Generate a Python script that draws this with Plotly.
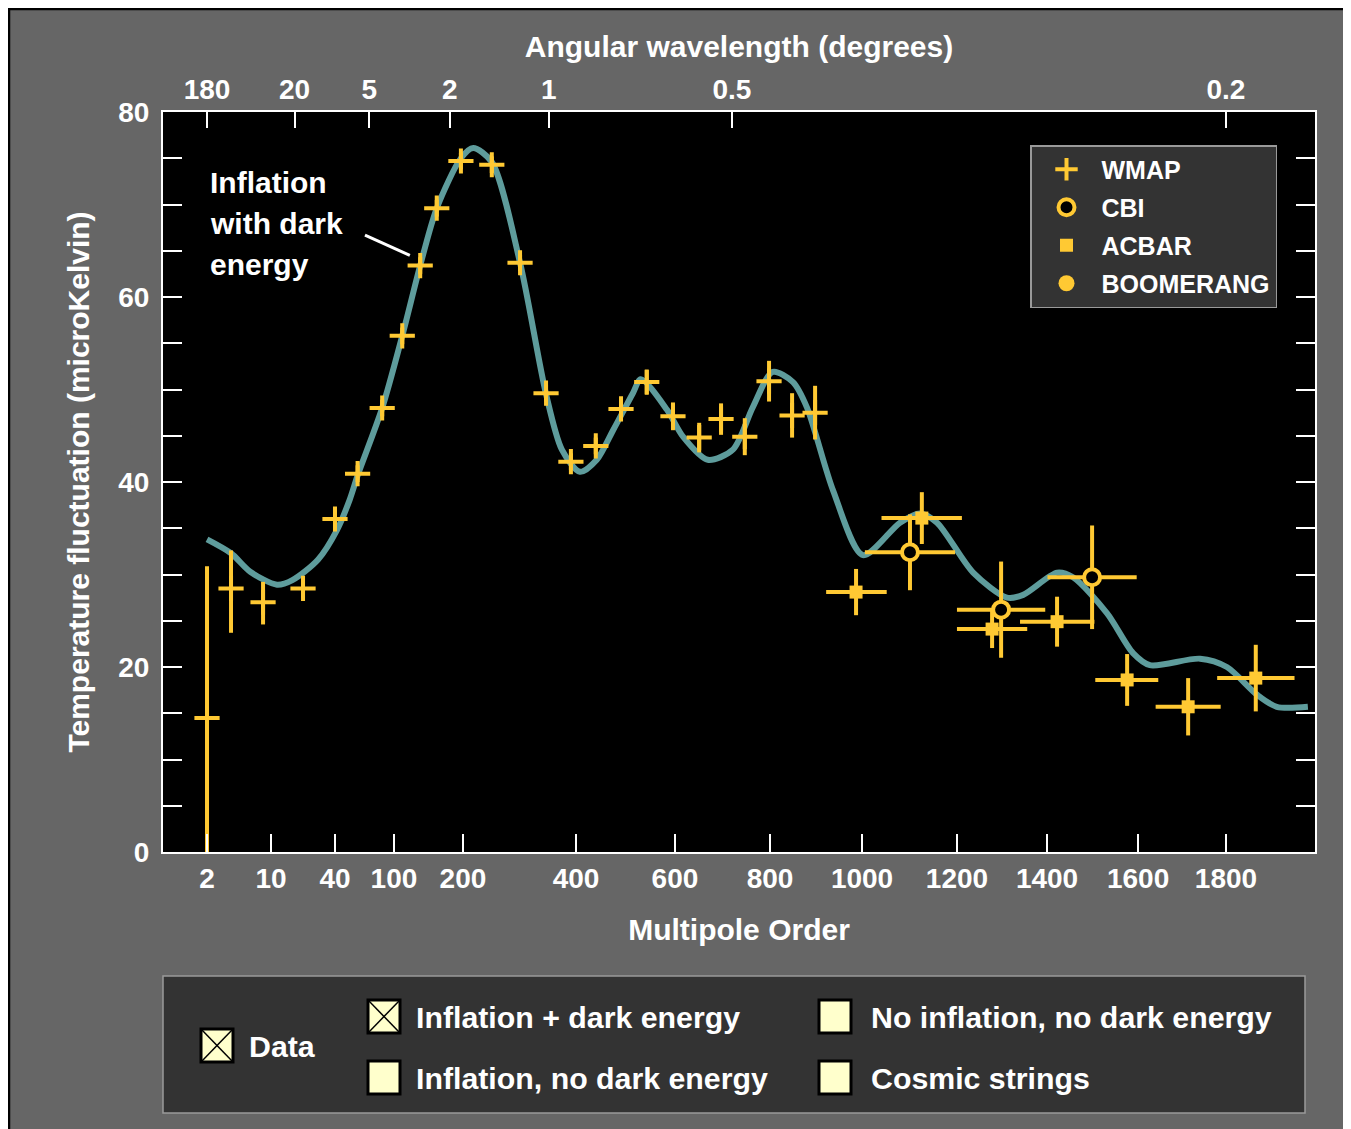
import numpy as np
import plotly.graph_objects as go

# ---------------- data ----------------
curve_l = [2, 5, 7.4, 12.8, 20, 32, 42, 55, 63, 88, 112, 138, 162, 197, 218, 251, 301, 347,
           375, 408, 442, 475, 515, 531, 584, 617, 669, 722, 764, 806, 850, 880, 937,
           1002, 1080, 1122, 1158, 1236, 1311, 1347, 1422, 1457, 1532, 1589, 1627, 1741,
           1802, 1870, 1914, 1984]
curve_t = [33.8, 32.3, 30.3, 28.9, 29.4, 31.6, 34.8, 38.1, 40.7, 48.0, 55.8, 63.4, 69.6, 75.0,
           76.1, 74.6, 63.7, 49.5, 43.5, 41.1, 42.4, 45.6, 49.6, 51.1, 47.8, 44.9, 42.4, 43.5,
           48.1, 51.9, 50.8, 48.1, 39.1, 32.1, 35.6, 36.6, 35.6, 30.2, 27.5, 27.8, 30.2,
           29.7, 25.8, 21.5, 20.2, 20.9, 20.0, 17.0, 15.7, 15.7]

wmap_l = [2, 5, 9, 25, 40, 63, 88, 112, 138, 162, 197, 251, 301, 347, 391, 440, 491, 543,
          596, 651, 697, 747, 798, 848, 898]
wmap_t = [14.5, 28.5, 27.0, 28.5, 36.0, 40.9, 48.0, 55.8, 63.4, 69.6, 74.7, 74.3, 63.7, 49.6,
          42.2, 43.9, 47.9, 50.8, 47.1, 44.8, 46.8, 44.9, 50.9, 47.2, 47.5]
wmap_err_plus = [16.4, 4.1, 2.2, 1.1, 1.0, 0.9, 0.9, 0.9, 0.9, 0.9, 0.9, 0.9, 0.9, 0.9, 0.9,
                 0.9, 1.0, 1.3, 1.5, 1.6, 1.7, 2.0, 2.2, 2.4, 2.9]
wmap_err_minus = [14.5, 4.8, 2.4, 1.0, 1.0, 0.9, 0.9, 0.9, 0.9, 0.9, 0.9, 0.9, 0.9, 0.9, 0.9,
                  0.9, 1.0, 1.3, 1.5, 1.6, 1.7, 2.0, 2.2, 2.4, 2.9]

cbi_l = [1101, 1298, 1499]
cbi_t = [32.4, 26.2, 29.7]
cbi_dl = [95, 98, 98]
cbi_dt = [4.1, 5.2, 5.6]

acbar_l = [987, 1126, 1278, 1422, 1576, 1714, 1867]
acbar_t = [28.1, 36.1, 24.1, 24.9, 18.6, 15.7, 18.8]
acbar_dl = [65, 85, 78, 82, 70, 74, 87]
acbar_dt = [2.5, 2.8, 2.05, 2.7, 2.8, 3.1, 3.6]

boomerang_l = []
boomerang_t = []

bottom_ticks = [2, 10, 40, 100, 200, 400, 600, 800, 1000, 1200, 1400, 1600, 1800]
top_tick_labels = ["180", "20", "5", "2", "1", "0.5", "0.2"]
top_tick_multipole = [2, 21, 75, 181, 352, 720, 1800]

# non-linear multipole scale: anchor multipoles -> fraction of axis length
scale_l = [2, 10, 40, 100, 200, 400, 600, 800, 1000, 1200, 1400, 1600, 1800, 2000]
scale_u = [0.0382, 0.0938, 0.1493, 0.2005, 0.2604, 0.3585, 0.4444, 0.5269, 0.6068,
           0.6892, 0.7674, 0.8464, 0.9227, 1.0]


def T(l):
    return np.interp(np.asarray(l, dtype=float), scale_l, scale_u)


def xerr(ls, dls):
    ls = np.asarray(ls, float)
    dls = np.asarray(dls, float)
    return T(ls + dls) - T(ls), T(ls) - T(ls - dls)


GOLD = "#FFC933"
TEAL = "#5E9C9C"
FONT = "Liberation Sans, Arial, sans-serif"

fig = go.Figure()

fig.add_trace(go.Scatter(x=T(curve_l), y=curve_t, mode="lines",
                         line=dict(color=TEAL, width=6, shape="spline", smoothing=0.8),
                         showlegend=False, hoverinfo="skip"))

fig.add_trace(go.Scatter(
    x=T(wmap_l), y=wmap_t, mode="markers", name="WMAP", legendrank=1, legendgroup="g1",
    marker=dict(symbol="cross-thin", size=18, color=GOLD, line=dict(width=4, color=GOLD)),
    error_y=dict(type="data", symmetric=False, array=wmap_err_plus,
                 arrayminus=wmap_err_minus, thickness=4, width=0, color=GOLD)))

ap, am = xerr(acbar_l, acbar_dl)
fig.add_trace(go.Scatter(
    x=T(acbar_l), y=acbar_t, mode="markers", name="ACBAR", legendrank=3, legendgroup="g3",
    marker=dict(symbol="square", size=13, color=GOLD, line=dict(width=0)),
    error_x=dict(type="data", symmetric=False, array=ap, arrayminus=am,
                 thickness=4, width=0, color=GOLD),
    error_y=dict(type="data", array=acbar_dt, thickness=4, width=0, color=GOLD)))

cp, cm = xerr(cbi_l, cbi_dl)
fig.add_trace(go.Scatter(
    x=T(cbi_l), y=cbi_t, mode="markers", name="CBI", legendrank=2, legendgroup="g2",
    marker=dict(symbol="circle", size=16, color="black", line=dict(width=4, color=GOLD)),
    error_x=dict(type="data", symmetric=False, array=cp, arrayminus=cm,
                 thickness=4, width=0, color=GOLD),
    error_y=dict(type="data", array=cbi_dt, thickness=4, width=0, color=GOLD)))

fig.add_trace(go.Scatter(
    x=T(boomerang_l) if boomerang_l else [None], y=boomerang_t if boomerang_t else [None],
    mode="markers", name="BOOMERANG", legendrank=4, legendgroup="g4",
    marker=dict(symbol="circle", size=16, color=GOLD)))

# invisible trace to activate the top axis
fig.add_trace(go.Scatter(x=[None], y=[None], xaxis="x2", showlegend=False))

W, H = 1343, 1129
L, R, TOP, B = 155, 36, 104, 285
pw = W - L - R
ph = H - TOP - B


def px(sx):
    return (sx - 8 - L) / pw


def py(sy):
    return 1 - (sy - 8 - TOP) / ph


shapes = []
# frame lines at the top and left page edge
shapes.append(dict(type="line", xref="paper", yref="paper", x0=px(8), x1=px(1360),
                   y0=py(9), y1=py(9), line=dict(color="black", width=2.5)))
shapes.append(dict(type="line", xref="paper", yref="paper", x0=px(9), x1=px(9),
                   y0=py(8), y1=py(1140), line=dict(color="black", width=2.5)))
# pointer line for annotation
shapes.append(dict(type="line", xref="x", yref="y", x0=float(T(70.5)), y0=66.7,
                   x1=float(T(123)), y1=64.5, line=dict(color="white", width=3)))
# bottom legend box
shapes.append(dict(type="rect", xref="paper", yref="paper", x0=px(163), x1=px(1305),
                   y0=py(1113), y1=py(976), fillcolor="#333333",
                   line=dict(color="#9a9a9a", width=1.5)))


def box(sx, sy, cross):
    out = [dict(type="rect", xref="paper", yref="paper", x0=px(sx), x1=px(sx + 32),
                y0=py(sy + 33), y1=py(sy), fillcolor="#FFFFCC",
                line=dict(color="black", width=3))]
    if cross:
        out.append(dict(type="line", xref="paper", yref="paper", x0=px(sx), x1=px(sx + 32),
                        y0=py(sy), y1=py(sy + 33), line=dict(color="black", width=1.5)))
        out.append(dict(type="line", xref="paper", yref="paper", x0=px(sx), x1=px(sx + 32),
                        y0=py(sy + 33), y1=py(sy), line=dict(color="black", width=1.5)))
    return out


shapes += box(201, 1029, True)
shapes += box(368, 1000, True)
shapes += box(368, 1061, False)
shapes += box(819, 1000, False)
shapes += box(819, 1061, False)

annotations = []
for txt, sy in [("Inflation", 182), ("with dark", 223), ("energy", 264)]:
    annotations.append(dict(xref="paper", yref="paper", x=px(208), y=py(sy), xanchor="left",
                            yanchor="middle", showarrow=False, text=txt,
                            font=dict(family=FONT, size=30, color="white", weight="bold")))
for txt, sx, sy in [("Data", 247, 1046), ("Inflation + dark energy", 414, 1017),
                    ("Inflation, no dark energy", 414, 1078),
                    ("No inflation, no dark energy", 869, 1017),
                    ("Cosmic strings", 869, 1078)]:
    annotations.append(dict(xref="paper", yref="paper", x=px(sx), y=py(sy), xanchor="left",
                            yanchor="middle", showarrow=False, text=txt,
                            font=dict(family=FONT, size=30.3, color="white", weight="bold")))

fig.update_layout(
    width=W, height=H,
    margin=dict(l=L, r=R, t=TOP, b=B),
    paper_bgcolor="#666666", plot_bgcolor="black",
    font=dict(family=FONT, color="white", size=28, weight="bold"),
    showlegend=True,
    legend=dict(x=px(1030), y=py(145), xanchor="left", yanchor="top",
                bgcolor="#333333", bordercolor="#9a9a9a", borderwidth=1.5,
                font=dict(family=FONT, size=25, color="white", weight="bold"),
                itemwidth=60, traceorder="grouped", tracegroupgap=2.5),
    shapes=shapes, annotations=annotations,
    xaxis=dict(range=[0, 1], tickmode="array", tickvals=list(T(bottom_ticks)),
               ticktext=[str(v) for v in bottom_ticks], ticks="inside", ticklen=18,
               tickwidth=1.5, tickcolor="white", showline=True, linecolor="white",
               linewidth=2, mirror=True, showgrid=False, zeroline=False,
               tickfont=dict(size=28, color="white"),
               title=dict(text="Multipole Order", font=dict(size=30), standoff=26)),
    xaxis2=dict(overlaying="x", side="top", range=[0, 1], tickmode="array",
                tickvals=list(T(top_tick_multipole)), ticktext=top_tick_labels,
                ticks="inside", ticklen=16, tickwidth=1.5, tickcolor="white",
                showline=False, showgrid=False, zeroline=False, ticklabelstandoff=6,
                tickfont=dict(size=28, color="white"),
                title=dict(text="Angular wavelength (degrees)", font=dict(size=30),
                           standoff=7)),
    yaxis=dict(range=[0, 80], tickmode="linear", tick0=0, dtick=20, ticks="inside",
               ticklen=19, tickwidth=1.5, tickcolor="white", showline=True,
               linecolor="white", linewidth=2, mirror="allticks", showgrid=False,
               zeroline=False, tickfont=dict(size=28, color="white"), ticklabelstandoff=6,
               minor=dict(dtick=5, ticks="inside", ticklen=16, tickwidth=1.5,
                          tickcolor="white"),
               title=dict(text="Temperature fluctuation (microKelvin)",
                          font=dict(size=30), standoff=20)),
)

fig.write_html("out.html")
